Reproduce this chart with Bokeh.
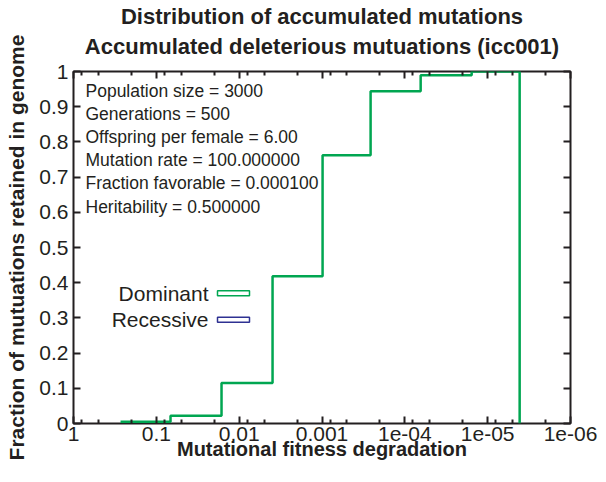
from bokeh.plotting import figure
from bokeh.models import (Range1d, FixedTicker, LogAxis, LinearAxis, Label, BoxAnnotation,
                          CustomJSTickFormatter)
from bokeh.embed import file_html
from bokeh.resources import INLINE

# ---- data ----
bin_edges = [0.2704, 0.0674, 0.01633, 0.003953, 0.000984, 0.000259, 6.44e-05, 1.56e-05, 4.11e-06]
dominant = [0.005, 0.022, 0.115, 0.418, 0.762, 0.944, 0.989, 1.0]

x_major = [1, 0.1, 0.01, 0.001, 1e-04, 1e-05, 1e-06]
x_labels = ["1", "0.1", "0.01", "0.001", "1e-04", "1e-05", "1e-06"]
x_minor = [m * d for d in [1, 0.1, 0.01, 0.001, 1e-04, 1e-05] for m in (0.8, 0.5, 0.2)]
y_major = [0, 0.1, 0.2, 0.3, 0.4, 0.5, 0.6, 0.7, 0.8, 0.9, 1]
y_labels = ["0", "0.1", "0.2", "0.3", "0.4", "0.5", "0.6", "0.7", "0.8", "0.9", "1"]

title_lines = ["Distribution of accumulated mutations",
               "Accumulated deleterious mutuations (icc001)"]
info_lines = ["Population size = 3000", "Generations = 500",
              "Offspring per female = 6.00", "Mutation rate = 100.000000",
              "Fraction favorable = 0.000100", "Heritability = 0.500000"]
legend_names = ["Dominant", "Recessive"]
legend_colors = ["#00a651", "#2e3192"]
x_title = "Mutational fitness degradation"
y_title = "Fraction of mutuations retained in genome"

INK = "#231f20"
FONT = "Liberation Sans"

p = figure(width=598, height=466, x_axis_type="log",
           x_range=Range1d(1, 1e-06), y_range=Range1d(0, 1),
           output_backend="svg", toolbar_location=None,
           min_border_left=73, min_border_right=28,
           min_border_top=71, min_border_bottom=43)
p.title = None
p.xgrid.visible = False
p.ygrid.visible = False
p.outline_line_color = INK
p.outline_line_width = 2
p.background_fill_color = "white"
p.border_fill_color = "white"

xt = FixedTicker(ticks=x_major, minor_ticks=x_minor)
yt = FixedTicker(ticks=y_major, minor_ticks=[])

def style(ax, size="21px"):
    ax.axis_line_color = None
    ax.major_tick_in = 7
    ax.major_tick_out = 0
    ax.minor_tick_in = 4
    ax.minor_tick_out = 0
    ax.major_tick_line_color = INK
    ax.minor_tick_line_color = INK
    ax.major_tick_line_width = 2
    ax.minor_tick_line_width = 2
    ax.major_label_text_font = FONT
    ax.major_label_text_font_size = size
    ax.major_label_text_color = INK
    ax.axis_label_text_font = FONT
    ax.axis_label_text_font_size = "21px"
    ax.axis_label_text_font_style = "bold"
    ax.axis_label_text_color = INK

xa = p.xaxis[0]
xa.ticker = xt
xa.major_label_overrides = dict(zip(x_major, x_labels))
xa.major_label_standoff = 3
style(xa)
xa.axis_label = x_title
xa.axis_label_text_font_size = "20px"
xa.axis_label_standoff = -6

ya = p.yaxis[0]
ya.ticker = yt
ya.major_label_overrides = dict(zip(y_major, y_labels))
ya.major_label_standoff = 5
style(ya)
ya.axis_label = y_title
ya.axis_label_standoff = 8

blank = CustomJSTickFormatter(code="return ''")
# mirror axis on top; it also carries the two-line chart title
top = LogAxis(ticker=xt, formatter=blank, major_label_standoff=0)
style(top, "1px")
top.axis_label = "\n".join(title_lines)
top.axis_label_text_font_size = "22px"
top.axis_label_standoff = 13
p.add_layout(top, "above")
right = LinearAxis(ticker=yt, formatter=blank, major_label_standoff=0)
style(right, "1px")
p.add_layout(right, "right")

# histogram steps
p.step(x=bin_edges, y=dominant + [0], mode="after",
       line_color=legend_colors[0], line_width=2.5)

# info block
for i, txt in enumerate(info_lines):
    p.add_layout(Label(x=12, y=333 - i * 23.2, x_units="screen", y_units="screen",
                       text=txt, text_baseline="middle",
                       text_font=FONT, text_font_size="17.5px",
                       text_color=INK))

# legend
for i, (name, col) in enumerate(zip(legend_names, legend_colors)):
    yc = 130.2 - i * 26.5
    p.add_layout(Label(x=135, y=yc, x_units="screen", y_units="screen", text=name,
                       text_align="right", text_baseline="middle",
                       text_font=FONT, text_font_size="21px", text_color=INK))
    p.add_layout(BoxAnnotation(left=144, right=176, bottom=yc - 2.5, top=yc + 2.5,
                               left_units="screen", right_units="screen",
                               bottom_units="screen", top_units="screen",
                               fill_color="white", fill_alpha=1.0,
                               line_color=col, line_width=1.5, line_alpha=1.0))

open("out.html", "w").write(file_html(p, INLINE))
